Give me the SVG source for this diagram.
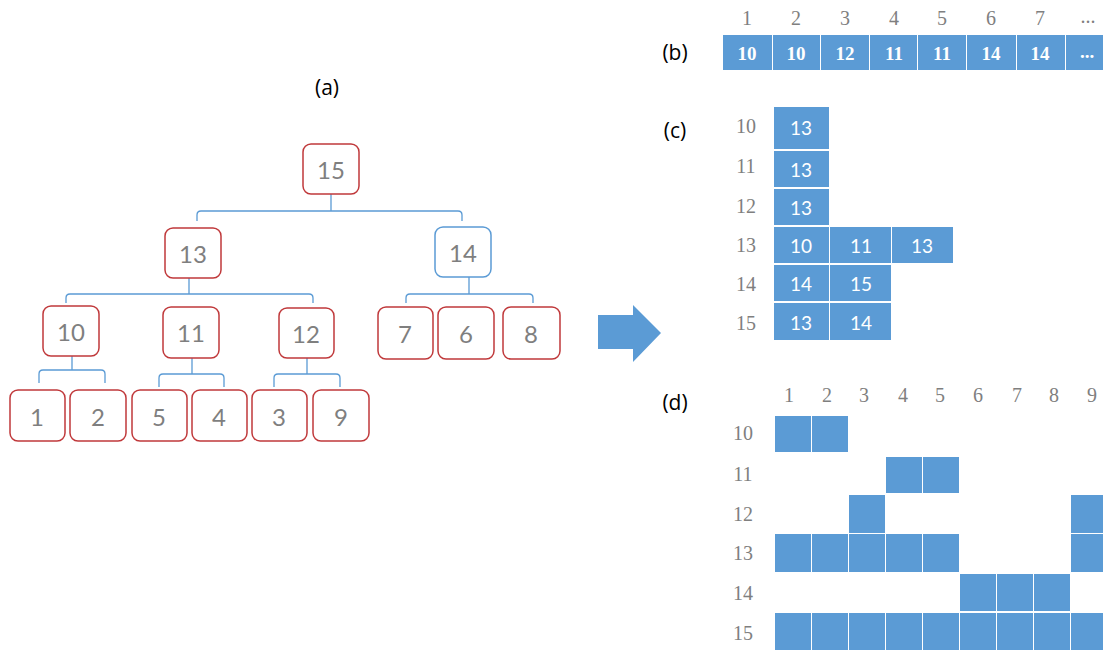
<svg xmlns="http://www.w3.org/2000/svg" width="1103" height="650" viewBox="0 0 1103 650">
<style>
.nd{fill:#fff;stroke:#C0393B;stroke-width:1.5}
.nb{fill:#fff;stroke:#5B9BD5;stroke-width:1.5}
.nt{font-family:Lato,"Open Sans",sans-serif;font-size:24px;fill:#7F7F7F;text-anchor:middle;dominant-baseline:central}
.cn{fill:none;stroke:#5B9BD5;stroke-width:1.3}
.lbl{font-family:"Open Sans",Lato,sans-serif;font-size:21px;fill:#000;text-anchor:middle;dominant-baseline:central}
.hd{font-family:"Liberation Serif",serif;font-size:20px;fill:#7F7F7F;text-anchor:middle;dominant-baseline:central}
.cell{fill:#5B9BD5}
.cs{font-family:"Liberation Serif",serif;font-size:19px;font-weight:bold;fill:#fff;text-anchor:middle;dominant-baseline:central}
.cw{font-family:Lato,"Open Sans",sans-serif;font-size:19px;fill:#fff;text-anchor:middle;dominant-baseline:central}
</style>
<rect width="1103" height="650" fill="#fff"/>
<text class="lbl" x="327" y="87">(a)</text>
<g id="connectors">
<path class="cn" d="M331,194 V211 M197,221 V215 Q197,211 201,211 H458 Q462,211 462,215 V221"/>
<path class="cn" d="M189,278 V294 M66,303 V298 Q66,294 70,294 H309 Q313,294 313,298 V303"/>
<path class="cn" d="M469,277 V294 M406,303 V298 Q406,294 410,294 H529 Q533,294 533,298 V303"/>
<path class="cn" d="M72,356 V370 M39,383 V374 Q39,370 43,370 H101 Q105,370 105,374 V383"/>
<path class="cn" d="M192,358 V374 M159,387 V378 Q159,374 163,374 H220 Q224,374 224,378 V387"/>
<path class="cn" d="M307,358 V374 M274,387 V378 Q274,374 278,374 H336 Q340,374 340,378 V387"/>
</g>
<g id="n15"><rect class="nd" x="303" y="144" width="56" height="50" rx="8"/><text class="nt" x="331" y="169">15</text></g>
<g id="n13"><rect class="nd" x="165" y="228" width="56" height="50" rx="8"/><text class="nt" x="193" y="253">13</text></g>
<g id="n14"><rect class="nb" x="435" y="227" width="56" height="50" rx="8"/><text class="nt" x="463" y="252">14</text></g>
<g id="n10"><rect class="nd" x="43" y="306" width="56" height="50" rx="8"/><text class="nt" x="71" y="331">10</text></g>
<g id="n11"><rect class="nd" x="163" y="307" width="56" height="51" rx="8"/><text class="nt" x="191" y="332">11</text></g>
<g id="n12"><rect class="nd" x="279" y="308" width="55" height="50" rx="8"/><text class="nt" x="306" y="333">12</text></g>
<g id="n7"><rect class="nd" x="378" y="307" width="55" height="52" rx="8"/><text class="nt" x="405" y="333">7</text></g>
<g id="n6"><rect class="nd" x="438" y="307" width="56" height="52" rx="8"/><text class="nt" x="466" y="333">6</text></g>
<g id="n8"><rect class="nd" x="503" y="307" width="57" height="52" rx="8"/><text class="nt" x="531" y="333">8</text></g>
<g id="n1"><rect class="nd" x="10" y="390" width="55" height="51" rx="8"/><text class="nt" x="37" y="416">1</text></g>
<g id="n2"><rect class="nd" x="70" y="390" width="56" height="51" rx="8"/><text class="nt" x="98" y="416">2</text></g>
<g id="n5"><rect class="nd" x="132" y="390" width="55" height="51" rx="8"/><text class="nt" x="159" y="416">5</text></g>
<g id="n4"><rect class="nd" x="192" y="390" width="55" height="51" rx="8"/><text class="nt" x="219" y="416">4</text></g>
<g id="n3"><rect class="nd" x="252" y="390" width="55" height="51" rx="8"/><text class="nt" x="279" y="416">3</text></g>
<g id="n9"><rect class="nd" x="313" y="390" width="56" height="51" rx="8"/><text class="nt" x="341" y="416">9</text></g>
<g id="arrow"><polygon fill="#5B9BD5" points="598,315 633,315 633,305 661,333 633,362 633,349 598,349"/></g>
<g id="b">
<text class="lbl" x="675" y="52">(b)</text>
<text class="hd" x="747" y="18">1</text><text class="hd" x="796" y="18">2</text><text class="hd" x="845" y="18">3</text><text class="hd" x="894" y="18">4</text><text class="hd" x="942" y="18">5</text><text class="hd" x="991" y="18">6</text><text class="hd" x="1040" y="18">7</text><text class="hd" x="1088" y="16">...</text>
<rect class="cell" x="723" y="35" width="49" height="35"/>
<rect class="cell" x="773" y="35" width="47" height="35"/>
<rect class="cell" x="821" y="35" width="48" height="35"/>
<rect class="cell" x="870" y="35" width="47" height="35"/>
<rect class="cell" x="918" y="35" width="48" height="35"/>
<rect class="cell" x="967" y="35" width="49" height="35"/>
<rect class="cell" x="1017" y="35" width="48" height="35"/>
<rect class="cell" x="1066" y="35" width="37" height="35"/>
<text class="cs" x="747" y="53">10</text><text class="cs" x="796" y="53">10</text><text class="cs" x="845" y="53">12</text><text class="cs" x="894" y="53">11</text><text class="cs" x="942" y="53">11</text><text class="cs" x="991" y="53">14</text><text class="cs" x="1040" y="53">14</text><text class="cs" x="1087" y="51">...</text>
</g>
<g id="c">
<text class="lbl" x="675" y="130">(c)</text>
<text class="hd" x="746" y="126">10</text><text class="hd" x="746" y="166">11</text><text class="hd" x="746" y="206">12</text><text class="hd" x="746" y="245">13</text><text class="hd" x="746" y="284">14</text><text class="hd" x="746" y="323">15</text>
<rect class="cell" x="774" y="107" width="55" height="42"/>
<rect class="cell" x="774" y="151" width="55" height="36"/>
<rect class="cell" x="774" y="189" width="55" height="36"/>
<rect class="cell" x="774" y="227" width="55" height="36"/>
<rect class="cell" x="830" y="227" width="61" height="36"/>
<rect class="cell" x="892" y="227" width="61" height="36"/>
<rect class="cell" x="774" y="265" width="55" height="36"/>
<rect class="cell" x="830" y="265" width="61" height="36"/>
<rect class="cell" x="774" y="303" width="55" height="37"/>
<rect class="cell" x="830" y="303" width="61" height="37"/>
<text class="cw" x="801" y="127">13</text><text class="cw" x="801" y="169">13</text><text class="cw" x="801" y="207">13</text>
<text class="cw" x="801" y="245">10</text><text class="cw" x="861" y="245">11</text><text class="cw" x="922" y="245">13</text>
<text class="cw" x="801" y="283">14</text><text class="cw" x="861" y="283">15</text>
<text class="cw" x="801" y="322">13</text><text class="cw" x="861" y="322">14</text>
</g>
<g id="d">
<text class="lbl" x="675" y="402">(d)</text>
<text class="hd" x="789" y="395">1</text><text class="hd" x="827" y="395">2</text><text class="hd" x="864" y="395">3</text><text class="hd" x="903" y="395">4</text><text class="hd" x="940" y="395">5</text><text class="hd" x="978" y="395">6</text><text class="hd" x="1017" y="395">7</text><text class="hd" x="1054" y="395">8</text><text class="hd" x="1092" y="395">9</text>
<text class="hd" x="743" y="433">10</text><text class="hd" x="743" y="474">11</text><text class="hd" x="743" y="514">12</text><text class="hd" x="743" y="553">13</text><text class="hd" x="743" y="593">14</text><text class="hd" x="743" y="633">15</text>
<rect class="cell" x="775" y="416" width="36" height="36"/><rect class="cell" x="812" y="416" width="36" height="36"/>
<rect class="cell" x="886" y="457" width="36" height="36"/><rect class="cell" x="923" y="457" width="36" height="36"/>
<rect class="cell" x="849" y="495" width="36" height="38"/><rect class="cell" x="1071" y="495" width="32" height="38"/>
<rect class="cell" x="775" y="534" width="36" height="38"/><rect class="cell" x="812" y="534" width="36" height="38"/><rect class="cell" x="849" y="534" width="36" height="38"/><rect class="cell" x="886" y="534" width="36" height="38"/><rect class="cell" x="923" y="534" width="36" height="38"/><rect class="cell" x="1071" y="534" width="32" height="38"/>
<rect class="cell" x="960" y="574" width="36" height="37"/><rect class="cell" x="997" y="574" width="36" height="37"/><rect class="cell" x="1034" y="574" width="36" height="37"/>
<rect class="cell" x="775" y="613" width="36" height="37"/><rect class="cell" x="812" y="613" width="36" height="37"/><rect class="cell" x="849" y="613" width="36" height="37"/><rect class="cell" x="886" y="613" width="36" height="37"/><rect class="cell" x="923" y="613" width="36" height="37"/><rect class="cell" x="960" y="613" width="36" height="37"/><rect class="cell" x="997" y="613" width="36" height="37"/><rect class="cell" x="1034" y="613" width="36" height="37"/><rect class="cell" x="1071" y="613" width="32" height="37"/>
</g>
</svg>
